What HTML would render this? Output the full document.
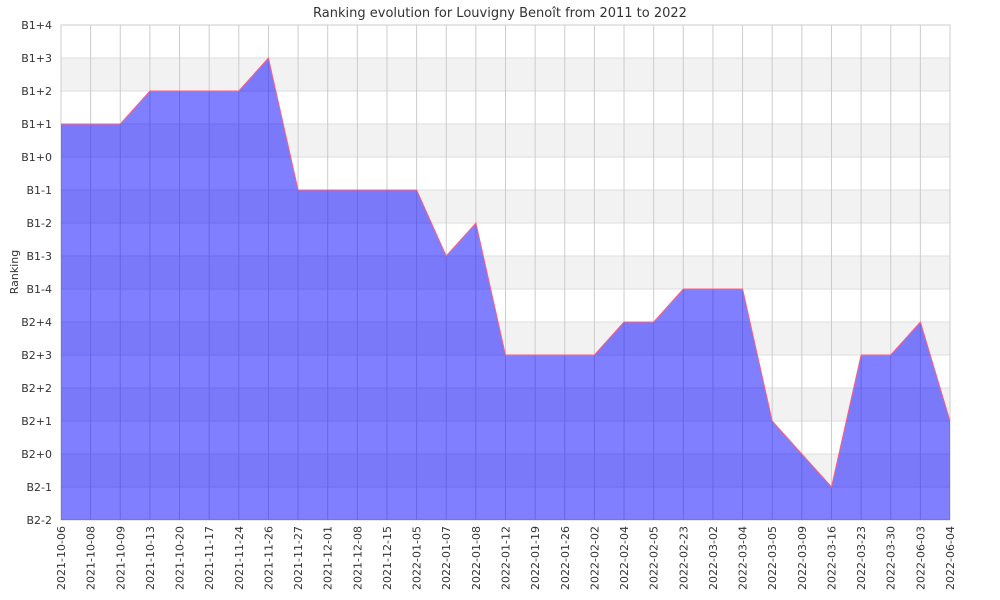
<!DOCTYPE html>
<html><head><meta charset="utf-8"><style>body{margin:0;background:#fff}svg{display:block}text{font-family:"DejaVu Sans","Liberation Sans",sans-serif;fill:#333}</style></head>
<body>
<svg width="1000" height="600" xmlns="http://www.w3.org/2000/svg">
<text x="500" y="17" font-size="13" text-anchor="middle">Ranking evolution for Louvigny Benoît from 2011 to 2022</text>
<g id="bands"></g>
<g id="grid"></g>
<g id="area"></g>
<g id="labels"></g>
<text transform="translate(18,272) rotate(-90)" font-size="11" text-anchor="middle">Ranking</text>
<script>
var ns="http://www.w3.org/2000/svg";
function el(p,t,a,txt){var e=document.createElementNS(ns,t);for(var k in a)e.setAttribute(k,a[k]);if(txt)e.textContent=txt;document.getElementById(p).appendChild(e);}
var L=61,R=950,T=25,S=33;
var yl=["B1+4","B1+3","B1+2","B1+1","B1+0","B1-1","B1-2","B1-3","B1-4","B2+4","B2+3","B2+2","B2+1","B2+0","B2-1","B2-2"];
for(var i=0;i<15;i++){if(i%2==1)el("bands","rect",{x:L,y:T+i*S,width:R-L,height:S,fill:"#f2f2f2"});}
for(var i=0;i<16;i++){var y=T+i*S;el("grid","line",{x1:L,x2:R,y1:y,y2:y,stroke:"#ddd","stroke-width":1});
el("labels","text",{x:52,y:y+4,"font-size":11,"text-anchor":"end"},yl[i]);}
var d=["2021-10-06","2021-10-08","2021-10-09","2021-10-13","2021-10-20","2021-11-17","2021-11-24","2021-11-26","2021-11-27","2021-12-01","2021-12-08","2021-12-15","2022-01-05","2022-01-07","2022-01-08","2022-01-12","2022-01-19","2022-01-26","2022-02-02","2022-02-04","2022-02-05","2022-02-23","2022-03-02","2022-03-04","2022-03-05","2022-03-09","2022-03-16","2022-03-23","2022-03-30","2022-06-03","2022-06-04"];
var v=[3,3,3,2,2,2,2,1,5,5,5,5,5,7,6,10,10,10,10,9,9,8,8,8,12,13,14,10,10,9,12];
var dx=(R-L)/30,pts=[];
for(var i=0;i<31;i++){var x=L+i*dx;el("grid","line",{x1:x,x2:x,y1:T,y2:520,stroke:"#ccc","stroke-width":1});
el("labels","text",{transform:"translate("+(x+4)+",526) rotate(-90)","font-size":11,"text-anchor":"end"},d[i]);
pts.push(x.toFixed(1)+","+(T+v[i]*S));}
el("area","polygon",{points:L+",520 "+pts.join(" ")+" "+R+",520",fill:"rgba(0,0,255,0.5)"});
el("area","polyline",{points:pts.join(" "),fill:"none",stroke:"#ff6080","stroke-width":1});
el("grid","rect",{x:L,y:T,width:R-L,height:495,fill:"none",stroke:"#ccc"});
</script>
</svg>
</body></html>
